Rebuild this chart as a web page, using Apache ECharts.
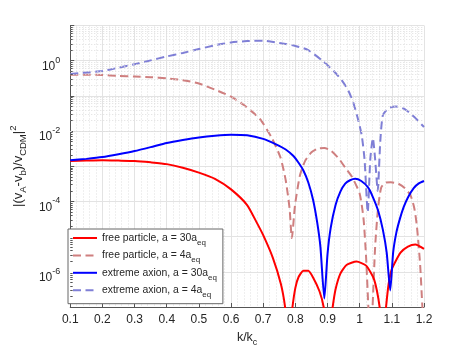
<!DOCTYPE html>
<html><head><meta charset="utf-8">
<script src="https://cdn.jsdelivr.net/npm/echarts@6/dist/echarts.min.js"></script>
<style>html,body{margin:0;padding:0;background:#fff}#c{width:469px;height:352px}</style>
</head><body><div id="c"></div>
<script>
// ---- data ----
const seriesNames = ['free particle, a = 30a_eq','free particle, a = 4a_eq','extreme axion, a = 30a_eq','extreme axion, a = 4a_eq'];
const xTicks = [0.1,0.2,0.3,0.4,0.5,0.6,0.7,0.8,0.9,1.0,1.1,1.2];

const kFP30 = [0.1,0.15,0.2,0.25,0.3,0.35,0.4,0.45,0.5,0.55,0.6,0.65,0.68,0.7,0.73,0.755,0.768,0.779,0.791,0.8,0.81,0.825,0.84,0.855,0.875,0.888,0.902,0.916,0.925,0.94,0.96,0.99,1.02,1.045,1.062,1.072,1.082,1.09,1.1,1.127,1.15,1.173,1.2];
const vFP30 = [1.41e-3,1.45e-3,1.48e-3,1.45e-3,1.41e-3,1.29e-3,1.15e-3,9.1e-4,6.6e-4,4.4e-4,2.2e-4,7.9e-5,2.5e-5,1.1e-5,2.5e-6,4.5e-7,1e-7,1e-8,1e-7,3.5e-7,7.1e-7,1.07e-6,1.07e-6,6.9e-7,2.8e-7,1e-7,1e-8,1e-7,3.2e-7,8.9e-7,1.58e-6,1.95e-6,1.5e-6,6e-7,1e-7,1e-8,1e-7,4.5e-7,1.2e-6,3.5e-6,5.2e-6,6e-6,4.5e-6];

const kFP4 = [0.1,0.15,0.2,0.25,0.3,0.35,0.4,0.45,0.5,0.55,0.6,0.64,0.69,0.727,0.754,0.77,0.782,0.789,0.799,0.814,0.83,0.85,0.87,0.89,0.91,0.935,0.955,0.976,1.0,1.012,1.02,1.027,1.033,1.04,1.048,1.057,1.067,1.08,1.097,1.12,1.14,1.158,1.17,1.178,1.188,1.195,1.2];
const vFP4 = [0.40,0.40,0.39,0.37,0.355,0.34,0.316,0.28,0.224,0.15,0.095,0.055,0.022,6.3e-3,1.74e-3,4e-4,6.3e-5,9.1e-6,7.9e-5,5.4e-4,1.4e-3,2.5e-3,3.2e-3,3.3e-3,2.8e-3,1.66e-3,9.1e-4,5e-4,1.66e-4,3.2e-5,2.5e-6,1e-7,1e-8,1e-7,5e-6,6.3e-5,2.5e-4,3.4e-4,3.5e-4,3.2e-4,2.4e-4,1.5e-4,6.3e-5,1.95e-5,1.6e-6,1e-7,2.5e-8];

const kEA30 = [0.1,0.15,0.2,0.25,0.3,0.35,0.4,0.45,0.5,0.55,0.6,0.65,0.7,0.74,0.77,0.794,0.81,0.825,0.84,0.855,0.868,0.878,0.89,0.9,0.91,0.925,0.94,0.955,0.97,0.986,1.005,1.026,1.04,1.057,1.072,1.084,1.095,1.104,1.114,1.125,1.137,1.15,1.168,1.185,1.2];
const vEA30 = [1.48e-3,1.62e-3,1.82e-3,2.19e-3,2.7e-3,3.5e-3,4.6e-3,5.6e-3,6.6e-3,7.4e-3,7.9e-3,7.6e-3,6e-3,4.2e-3,3e-3,1.95e-3,1.26e-3,7.6e-4,3.5e-4,1.12e-4,2.5e-5,5e-6,1.74e-7,3.2e-6,1.8e-5,7.9e-5,1.9e-4,3.2e-4,4e-4,4.4e-4,3.8e-4,2.5e-4,1.4e-4,5.6e-5,1.58e-5,3.5e-6,2.95e-7,3.5e-6,1.3e-5,3.2e-5,7e-5,1.3e-4,2.4e-4,3.3e-4,3.8e-4];

const kEA4 = [0.1,0.15,0.2,0.25,0.3,0.35,0.4,0.45,0.5,0.55,0.6,0.65,0.7,0.75,0.8,0.84,0.885,0.92,0.945,0.965,0.981,0.993,1.006,1.015,1.025,1.033,1.041,1.048,1.056,1.064,1.072,1.09,1.112,1.14,1.17,1.2];
const vEA4 = [0.42,0.46,0.51,0.63,0.79,1.02,1.32,1.66,2.14,2.75,3.3,3.6,3.7,3.2,2.63,2.0,0.98,0.5,0.27,0.14,0.06,0.025,7.9e-3,1.6e-3,5e-5,1.6e-3,6.3e-3,1.6e-3,2e-4,5e-3,0.028,0.045,0.05,0.042,0.025,0.013];

// ---- build ----
const zip = (ks, vs) => ks.map((k, i) => [k, vs[i]]);
const TXT = '#262626', FONT = 'Liberation Sans';
const minorY = [];
for (let e = -7; e <= 0; e++) for (let m = 2; m <= 9; m++) minorY.push(m * Math.pow(10, e));

const gridLines = minorY.map(v => ({yAxis: v}));
const minorTicks = minorY.map(v => [{coord: [0.1, v]}, {coord: [0.1075, v]}]);

const legendFmt = n => {
  const p = n.split('_');
  return '{t|' + p[0] + '}{sub|' + p[1] + '}';
};

const SM = 0.2;
const chart = echarts.init(document.getElementById('c'), null, {renderer: 'canvas'});
chart.setOption({
  animation: false,
  backgroundColor: '#fff',
  grid: {left: 61, right: 45, top: 25.5, bottom: 40, containLabel: false},
  xAxis: {
    type: 'value', min: 0.1, max: 1.2, interval: 0.1,
    name: '{t|k/k}{sub|c}', nameLocation: 'middle', nameGap: 22,
    nameTextStyle: {rich: {t: {fontSize: 12.5, color: TXT, fontFamily: FONT, lineHeight: 18}, sub: {fontSize: 9, color: TXT, fontFamily: FONT, verticalAlign: 'bottom', lineHeight: 9}}},
    axisLine: {show: true, onZero: false, lineStyle: {color: '#555', width: 1}},
    axisTick: {show: true, inside: true, length: 4, lineStyle: {color: '#555'}},
    axisLabel: {color: TXT, fontSize: 12, fontFamily: FONT, margin: 7, formatter: v => String(Math.round(v * 10) / 10)},
    splitLine: {show: true, lineStyle: {color: '#e3e3e3', width: 1}},
    minorTick: {show: false, splitNumber: 5},
    minorSplitLine: {show: true, lineStyle: {color: '#dedede', width: 1, type: [1, 2]}}
  },
  yAxis: {
    type: 'log', min: 1e-7, max: 10, logBase: 10, splitNumber: 8,
    name: '{t||(v}{sub|A}{t|-v}{sub|b}{t|)/v}{sub|CDM}{t||}{sup|2}',
    nameLocation: 'middle', nameRotate: 90, nameGap: 24,
    nameTextStyle: {rich: {
      t: {fontSize: 13, color: TXT, fontFamily: FONT, lineHeight: 20},
      sub: {fontSize: 9.5, color: TXT, fontFamily: FONT, verticalAlign: 'bottom', lineHeight: 9},
      sup: {fontSize: 9.5, color: TXT, fontFamily: FONT, verticalAlign: 'top', lineHeight: 9}
    }},
    axisLine: {show: true, lineStyle: {color: '#555', width: 1}},
    axisTick: {show: true, inside: true, length: 4, lineStyle: {color: '#555'}},
    axisLabel: {
      margin: 10, color: TXT,
      formatter: v => {
        const e = Math.round(Math.log10(v));
        if (e % 2 !== 0 || e > 0) return '';
        return '{b|10}{s|' + e + '}';
      },
      rich: {
        b: {fontSize: 12, color: TXT, fontFamily: FONT, lineHeight: 24, verticalAlign: 'bottom'},
        s: {fontSize: 9, color: TXT, fontFamily: FONT, verticalAlign: 'top', lineHeight: 9, padding: [7, 0, 0, 0]}
      }
    },
    splitLine: {show: true, lineStyle: {color: '#e3e3e3', width: 1}}
  },
  legend: {
    data: seriesNames, orient: 'vertical', left: 68, top: 229,
    backgroundColor: '#fff', borderColor: '#666', borderWidth: 1, borderRadius: 0,
    padding: [4, 6, 5, 4], itemWidth: 24, itemHeight: 12, itemGap: 3.9,
    itemStyle: {opacity: 0},
    formatter: legendFmt,
    textStyle: {rich: {
      t: {fontSize: 10.4, color: TXT, fontFamily: FONT, lineHeight: 17},
      sub: {fontSize: 8, color: TXT, fontFamily: FONT, verticalAlign: 'bottom', lineHeight: 8}
    }}
  },
  series: [
    {type: 'line', name: '_grid', data: [], silent: true, z: 1,
     markLine: {silent: true, symbol: ['none', 'none'], label: {show: false}, animation: false,
       lineStyle: {color: '#dedede', width: 1, type: [1, 2]}, data: gridLines}},
    {type: 'line', name: '_ticks', data: [], silent: true, z: 3,
     markLine: {silent: true, symbol: ['none', 'none'], label: {show: false}, animation: false,
       lineStyle: {color: '#555', width: 1, type: 'solid'}, data: minorTicks}},
    {type: 'line', name: seriesNames[0], data: zip(kFP30, vFP30), showSymbol: false, symbol: 'none', smooth: SM, z: 5,
     lineStyle: {color: '#ff0000', width: 2}, itemStyle: {color: '#ff0000'}},
    {type: 'line', name: seriesNames[1], data: zip(kFP4, vFP4), showSymbol: false, symbol: 'none', smooth: SM, z: 4,
     lineStyle: {color: '#cf7f7f', width: 2, type: [8, 4.5]}, itemStyle: {color: '#cf7f7f'}},
    {type: 'line', name: seriesNames[2], data: zip(kEA30, vEA30), showSymbol: false, symbol: 'none', smooth: SM, z: 5,
     lineStyle: {color: '#0000ff', width: 2}, itemStyle: {color: '#0000ff'}},
    {type: 'line', name: seriesNames[3], data: zip(kEA4, vEA4), showSymbol: false, symbol: 'none', smooth: SM, z: 4,
     lineStyle: {color: '#7f7fd6', width: 2, type: [8, 4.5]}, itemStyle: {color: '#7f7fd6'}}
  ]
});
</script></body></html>
